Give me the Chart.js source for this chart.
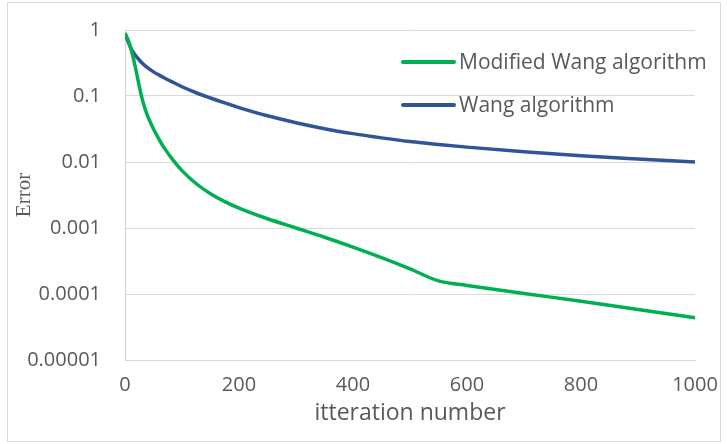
<!DOCTYPE html>
<html>
<head>
<meta charset="utf-8">
<script src="https://cdn.jsdelivr.net/npm/chart.js@4/dist/chart.umd.min.js"></script>
<style>
  html, body { margin: 0; padding: 0; background: #fff; }
  #wrap { position: relative; width: 727px; height: 444px; }
</style>
</head>
<body>
<div id="wrap"><canvas id="errors"></canvas></div>
<script>
// iteration numbers where the error was sampled
const iterations = [0, 5, 10, 15, 20, 25, 30, 35, 40, 50, 60, 70, 85, 100, 125, 150, 175, 200,
  250, 300, 350, 400, 450, 500, 550, 600, 700, 800, 900, 1000];

const modifiedWang = [0.891, 0.724, 0.537, 0.363, 0.229, 0.141, 0.0912, 0.0646, 0.049, 0.0316,
  0.0219, 0.0158, 0.0105, 0.0074, 0.00468, 0.00331, 0.00251, 0.002, 0.00138, 0.001, 0.000724,
  0.000513, 0.000355, 0.00024, 0.000158, 0.000135, 0.000102, 0.0000776, 0.0000582, 0.0000437];

const wang = [0.891, 0.676, 0.537, 0.452, 0.394, 0.351, 0.316, 0.288, 0.266, 0.232, 0.207,
  0.186, 0.16, 0.138, 0.112, 0.0933, 0.0785, 0.0668, 0.0501, 0.0394, 0.032, 0.0269, 0.0232,
  0.0204, 0.0184, 0.0168, 0.0143, 0.0124, 0.0111, 0.01];

const yTicks = [0.00001, 0.0001, 0.001, 0.01, 0.1, 1];
const yTickLabels = ['0.00001', '0.0001', '0.001', '0.01', '0.1', '1'];

const textColor = '#595959';
const gridColor = '#d9d9d9';
const clear = 'rgba(0,0,0,0)';

function toPoints(values) {
  return iterations.map((it, i) => ({ x: it, y: values[i] }));
}

// legend drawn inside the plot, top right, like the original
const insideLegend = {
  id: 'insideLegend',
  afterDraw(chart) {
    const ctx = chart.ctx;
    const rows = [62, 105];
    ctx.save();
    ctx.font = '21px "Open Sans"';
    ctx.textBaseline = 'middle';
    ctx.fillStyle = textColor;
    chart.data.datasets.forEach((ds, i) => {
      ctx.strokeStyle = ds.borderColor;
      ctx.lineWidth = 4;
      ctx.lineCap = 'round';
      ctx.beginPath();
      ctx.moveTo(403, rows[i]);
      ctx.lineTo(454, rows[i]);
      ctx.stroke();
      ctx.fillText(ds.label, 459, rows[i] + 1);
    });
    ctx.restore();
  }
};

const frame = {
  id: 'frame',
  beforeDraw(chart) {
    const ctx = chart.ctx;
    ctx.save();
    ctx.fillStyle = '#fff';
    ctx.fillRect(0, 0, chart.width, chart.height);
    ctx.strokeStyle = gridColor;
    ctx.lineWidth = 1;
    ctx.strokeRect(7.5, 2.5, 713, 439);
    ctx.restore();
  }
};

new Chart(document.querySelector('#errors'), {
  type: 'line',
  data: {
    datasets: [
      {
        label: 'Modified Wang algorithm',
        data: toPoints(modifiedWang),
        borderColor: '#00B050',
        borderWidth: 3.5,
        pointRadius: 0,
        cubicInterpolationMode: 'monotone'
      },
      {
        label: 'Wang algorithm',
        data: toPoints(wang),
        borderColor: '#2F5597',
        borderWidth: 3.5,
        pointRadius: 0,
        cubicInterpolationMode: 'monotone'
      }
    ]
  },
  options: {
    responsive: true,
    maintainAspectRatio: false,
    animation: false,
    layout: { padding: { top: 30, right: 32, left: 0, bottom: 0 } },
    plugins: {
      legend: { display: false },
      tooltip: { enabled: false }
    },
    scales: {
      x: {
        type: 'linear',
        min: 0,
        max: 1000,
        ticks: {
          stepSize: 200,
          color: textColor,
          font: { family: 'Open Sans', size: 20 },
          padding: 5,
          maxRotation: 0,
          callback: value => String(value)
        },
        grid: { display: true, color: clear, tickColor: clear, drawTicks: true, tickLength: 8 },
        border: { display: true, color: gridColor },
        title: {
          display: true,
          text: 'itteration number',
          color: textColor,
          font: { family: 'Open Sans', size: 23 },
          padding: { top: 0, bottom: 17 }
        },
        afterFit(scale) { scale.height = 84; }
      },
      y: {
        type: 'logarithmic',
        min: 0.00001,
        max: 1,
        afterBuildTicks(scale) {
          scale.ticks = yTicks.map(v => ({ value: v }));
        },
        ticks: {
          color: textColor,
          font: { family: 'Open Sans', size: 20 },
          padding: 6,
          callback: (value, index) => yTickLabels[index]
        },
        grid: { color: gridColor, lineWidth: 1, drawTicks: true, tickLength: 18, tickColor: clear },
        border: { display: true, color: '#cfcfcf' },
        title: {
          display: true,
          text: 'Error',
          color: textColor,
          font: { family: 'Liberation Serif', size: 21 },
          padding: { top: 12, bottom: 0 }
        },
        afterFit(scale) { scale.width = 125; }
      }
    }
  },
  plugins: [frame, insideLegend]
});
</script>
</body>
</html>
